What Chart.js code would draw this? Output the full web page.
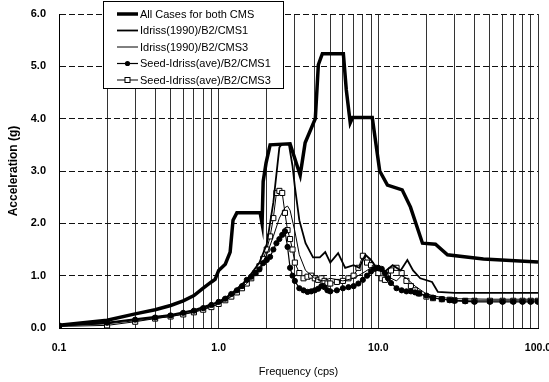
<!DOCTYPE html>
<html>
<head>
<meta charset="utf-8">
<script src="https://cdn.jsdelivr.net/npm/chart.js"></script>
<style>
  html, body { margin: 0; padding: 0; background: #fff; }
  #wrap { width: 549px; height: 382px; }
</style>
</head>
<body>
<div id="wrap"><canvas id="grafico" width="549" height="382"></canvas></div>
<script>
// series names (legend)
var seriesNames = ["All Cases for both CMS", "Idriss(1990)/B2/CMS1", "Idriss(1990)/B2/CMS3",
  "Seed-Idriss(ave)/B2/CMS1", "Seed-Idriss(ave)/B2/CMS3"];

// envelope
var freqEnvelope = [0.1, 0.2, 0.3, 0.4, 0.5, 0.6, 0.7, 0.8, 0.9, 0.95, 1.0, 1.1, 1.18, 1.23, 1.3, 1.82, 1.87, 1.9, 1.98, 2.1,
  2.8, 3.24, 3.48, 4.03, 4.21, 4.46, 6.04, 6.3, 6.67, 6.9, 9.16, 10.2, 11.4, 14.1, 15.9, 18.9, 22.8, 27.1, 45.5, 100];
var accEnvelope = [0.05, 0.15, 0.27, 0.35, 0.43, 0.52, 0.62, 0.76, 0.88, 0.93, 1.1, 1.22, 1.45, 2.06, 2.2, 2.2, 2.0, 2.8, 3.15, 3.5,
  3.52, 2.92, 3.54, 4.0, 5.03, 5.24, 5.24, 4.55, 3.92, 4.02, 4.02, 3.0, 2.73, 2.64, 2.31, 1.62, 1.6, 1.4, 1.32, 1.26];

// Idriss CMS1
var freqIdriss1 = [0.1, 0.2, 0.3, 0.5, 0.7, 1.0, 1.2, 1.5, 1.8, 2.0, 2.2, 2.4, 2.5, 2.75, 2.9, 3.0, 3.2, 3.5, 3.9, 4.3,
  4.65, 5.0, 5.6, 6.2, 7.0, 7.6, 8.3, 9.0, 10, 11, 12.3, 13.8, 15.2, 16.5, 18.3, 21.7, 23.6, 30, 50, 100];
var accIdriss1 = [0.05, 0.1, 0.17, 0.25, 0.34, 0.5, 0.65, 0.92, 1.25, 1.6, 2.4, 3.45, 3.52, 3.52, 3.1, 2.7, 2.06, 1.62, 1.35, 1.35,
  1.45, 1.25, 1.43, 1.15, 1.2, 1.15, 1.4, 1.3, 1.1, 1.08, 1.2, 1.1, 1.3, 1.1, 0.95, 0.88, 0.69, 0.67, 0.67, 0.67];

// Idriss CMS3
var freqIdriss3 = [0.1, 0.2, 0.3, 0.5, 0.7, 1.0, 1.2, 1.5, 1.8, 2.0, 2.2, 2.4, 2.6, 2.7, 2.8, 3.0, 3.2, 3.5, 4.0, 4.5,
  5.0, 6.0, 7.0, 8.0, 9.0, 10, 11, 12, 13, 14, 15, 17, 20, 25, 30, 50, 100];
var accIdriss3 = [0.04, 0.08, 0.14, 0.22, 0.31, 0.46, 0.6, 0.85, 1.15, 1.4, 1.75, 2.1, 2.3, 2.33, 2.25, 1.85, 1.4, 1.1, 0.95, 0.9,
  0.95, 0.9, 0.95, 1.05, 1.15, 1.18, 1.1, 0.95, 0.9, 1.0, 0.95, 0.8, 0.65, 0.58, 0.56, 0.55, 0.55];

// Seed-Idriss, both CMS (same frequencies)
var freqSeed = [0.1, 0.2, 0.3, 0.4, 0.5, 0.6, 0.7, 0.8, 0.9,
  1.0, 1.1, 1.2, 1.3, 1.4, 1.5, 1.6, 1.7, 1.8, 1.9, 2.0, 2.1, 2.2, 2.3, 2.4, 2.5, 2.6, 2.7, 2.8, 2.9, 3.0,
  3.2, 3.4, 3.6, 3.8, 4.0, 4.2, 4.4, 4.6, 4.8, 5.0,
  5.5, 6.0, 6.5, 7.0, 7.5, 8.0, 8.5, 9.0, 9.5, 10,
  10.5, 11, 11.5, 12, 13, 14, 15, 16, 17, 18,
  20, 22, 25, 28, 30, 35, 40, 50, 60, 70, 80, 90, 100];
var accSeed1 = [0.05, 0.1, 0.16, 0.2, 0.24, 0.29, 0.33, 0.38, 0.44,
  0.5, 0.56, 0.65, 0.72, 0.8, 0.92, 0.98, 1.05, 1.12, 1.24, 1.3, 1.36, 1.5, 1.62, 1.7, 1.78, 1.85, 1.55, 1.15, 1.0, 0.9,
  0.76, 0.72, 0.69, 0.7, 0.72, 0.75, 0.8, 0.78, 0.72, 0.7,
  0.72, 0.76, 0.78, 0.8, 0.85, 0.92, 1.0, 1.08, 1.13, 1.15,
  1.13, 1.05, 0.95, 0.86, 0.76, 0.72, 0.7, 0.7, 0.68, 0.66,
  0.62, 0.58, 0.55, 0.53, 0.52, 0.51, 0.5, 0.5, 0.5, 0.5, 0.5, 0.5, 0.5];
var accSeed3 = [0.03, 0.05, 0.12, 0.18, 0.22, 0.26, 0.3, 0.35, 0.4,
  0.46, 0.53, 0.6, 0.68, 0.76, 0.85, 0.95, 1.05, 1.18, 1.32, 1.5, 1.75, 2.1, 2.58, 2.62, 2.58, 2.2, 1.87, 1.7, 1.5, 1.25,
  1.05, 0.95, 0.98, 1.0, 0.95, 0.92, 0.95, 0.9, 0.85, 0.85,
  0.88, 0.9, 0.95, 1.0, 1.15, 1.38, 1.25, 1.2, 1.15, 1.05,
  0.95, 0.92, 1.0, 1.1, 1.15, 1.05, 0.9, 0.8, 0.72, 0.66,
  0.6, 0.57, 0.55, 0.54, 0.53, 0.52, 0.52, 0.52, 0.52, 0.52, 0.52, 0.52, 0.52];

// axis ticks
var xGridTicks = [0.1, 0.2, 0.3, 0.4, 0.5, 0.6, 0.7, 0.8, 0.9, 1, 2, 3, 4, 5, 6, 7, 8, 9, 10, 20, 30, 40, 50, 60, 70, 80, 90, 100];
var xTickLabels = [0.1, 1, 10, 100];

function pares(xs, ys) {
  return xs.map(function (x, i) { return { x: x, y: ys[i] }; });
}

var legendaInterna = {
  id: 'legendaInterna',
  afterDatasetsDraw: function (chart) {
    var ctx = chart.ctx;
    ctx.save();
    ctx.fillStyle = '#fff';
    ctx.fillRect(104, 2, 179, 86);
    ctx.strokeStyle = '#000';
    ctx.lineWidth = 1;
    ctx.strokeRect(103.5, 1.5, 180, 87);
    chart.data.datasets.forEach(function (ds, i) {
      var y = 14 + i * 16.5;
      ctx.strokeStyle = '#000';
      ctx.lineWidth = ds.borderWidth;
      ctx.beginPath();
      ctx.moveTo(117, y);
      ctx.lineTo(138, y);
      ctx.stroke();
      if (ds.pointRadius > 0) {
        ctx.lineWidth = 1;
        if (ds.pointStyle === 'rect') {
          ctx.fillStyle = '#fff';
          ctx.fillRect(125, y - 2.5, 5, 5);
          ctx.strokeRect(125, y - 2.5, 5, 5);
        } else {
          ctx.fillStyle = '#000';
          ctx.beginPath();
          ctx.arc(127.5, y, 2.6, 0, Math.PI * 2);
          ctx.fill();
        }
      }
      ctx.fillStyle = '#000';
      ctx.font = '11px "Liberation Sans", Arial, sans-serif';
      ctx.textBaseline = 'middle';
      ctx.textAlign = 'left';
      ctx.fillText(ds.label, 140, y + 0.5);
    });
    ctx.restore();
  }
};

var fonteEixo = { family: '"Liberation Sans", Arial, sans-serif', size: 11, weight: 'bold' };
var fonteEixoX = { family: '"Liberation Sans", Arial, sans-serif', size: 10.5, weight: 'bold' };

var grafico = new Chart(document.getElementById('grafico').getContext('2d'), {
  type: 'line',
  data: {
    datasets: [
      { label: seriesNames[0], data: pares(freqEnvelope, accEnvelope), borderColor: '#000', borderWidth: 3.5,
        pointRadius: 0, tension: 0, fill: false },
      { label: seriesNames[1], data: pares(freqIdriss1, accIdriss1), borderColor: '#000', borderWidth: 1.8,
        pointRadius: 0, tension: 0, fill: false },
      { label: seriesNames[2], data: pares(freqIdriss3, accIdriss3), borderColor: '#000', borderWidth: 1,
        pointRadius: 0, tension: 0, fill: false },
      { label: seriesNames[3], data: pares(freqSeed, accSeed1), borderColor: '#000', borderWidth: 1.2,
        pointStyle: 'circle', pointRadius: 2.6, pointBackgroundColor: '#000', pointBorderColor: '#000',
        pointBorderWidth: 1, tension: 0, fill: false },
      { label: seriesNames[4], data: pares(freqSeed, accSeed3), borderColor: '#000', borderWidth: 1,
        pointStyle: 'rect', pointRadius: 3.6, pointBackgroundColor: '#fff', pointBorderColor: '#000',
        pointBorderWidth: 1, tension: 0, fill: false }
    ]
  },
  options: {
    responsive: false,
    animation: false,
    layout: { padding: { top: 14, right: 0, left: 0, bottom: 0 } },
    plugins: { legend: { display: false }, tooltip: { enabled: false } },
    scales: {
      x: {
        type: 'logarithmic',
        min: 0.1,
        max: 100,
        afterBuildTicks: function (axis) {
          axis.ticks = xGridTicks.map(function (v) { return { value: v }; });
        },
        afterFit: function (axis) {
          axis.height = 54;
          axis.paddingLeft = 0;
          axis.paddingRight = 11;
        },
        ticks: {
          autoSkip: false,
          maxRotation: 0,
          padding: 14,
          color: '#000',
          font: fonteEixoX,
          callback: function (v) {
            return xTickLabels.indexOf(v) >= 0 ? v.toFixed(1) : '';
          }
        },
        grid: { color: '#333', lineWidth: 1, drawTicks: false },
        border: { color: '#000', width: 1 },
        title: {
          display: true,
          text: 'Frequency (cps)',
          color: '#000',
          font: { family: '"Liberation Sans", Arial, sans-serif', size: 11 },
          padding: { top: 0, bottom: 3 }
        }
      },
      y: {
        min: 0,
        max: 6,
        afterFit: function (axis) {
          axis.width = 59;
          axis.paddingTop = 0;
          axis.paddingBottom = 0;
        },
        ticks: {
          stepSize: 1,
          padding: 13,
          color: '#000',
          font: fonteEixo,
          callback: function (v) { return v.toFixed(1); }
        },
        grid: { color: '#111', lineWidth: 1, drawTicks: false },
        border: { color: '#000', width: 1, dash: [6, 3] },
        title: {
          display: true,
          text: 'Acceleration (g)',
          color: '#000',
          font: { family: '"Liberation Sans", Arial, sans-serif', size: 12, weight: 'bold' },
          padding: { top: 6, bottom: 0 }
        }
      }
    }
  },
  plugins: [legendaInterna]
});
</script>
</body>
</html>
